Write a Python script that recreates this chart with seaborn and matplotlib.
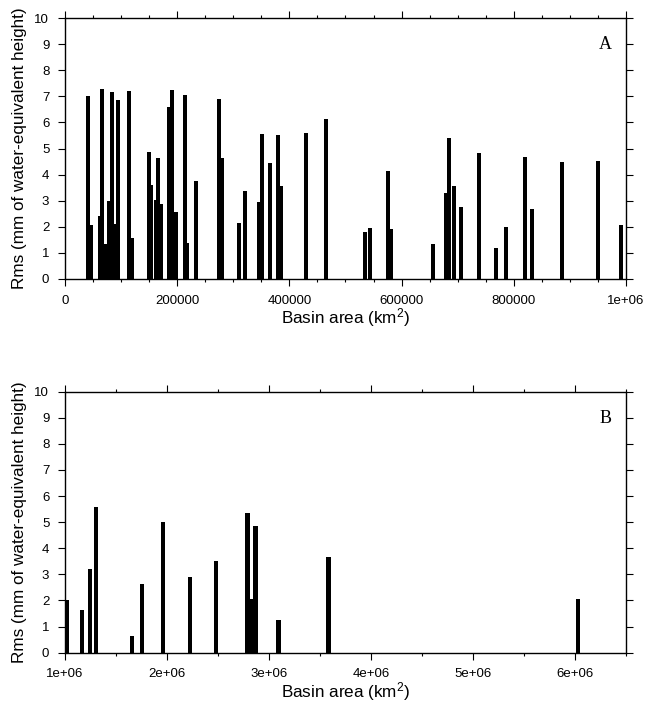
import numpy as np
import pandas as pd
import matplotlib
matplotlib.use("Agg")
import matplotlib.pyplot as plt
import seaborn as sns
from matplotlib.ticker import FixedLocator, MultipleLocator

# Basins smaller than 1e6 km^2: area (km^2) and rms (mm water-equivalent height)
area_small = [41000, 47200, 61500, 66000, 73100, 78400, 83800, 88200, 94500,
              114000, 119400, 149700, 154200, 161300, 165800, 171100, 185400,
              190700, 197900, 213900, 217500, 233500, 274500, 279900, 310200,
              320900, 345800, 351200, 364900, 379700, 385000, 429600, 465200,
              534800, 543700, 575800, 581100, 656000, 679100, 684500, 693400,
              705900, 738000, 768300, 786100, 819900, 832400, 885900, 950100,
              991100]
rms_small = [7.03, 2.08, 2.43, 7.28, 1.33, 3.0, 7.17, 2.1, 6.86,
             7.2, 1.58, 4.87, 3.6, 3.03, 4.64, 2.88, 6.6,
             7.24, 2.57, 7.05, 1.39, 3.76, 6.9, 4.64, 2.15,
             3.38, 2.96, 5.56, 4.45, 5.52, 3.57, 5.6, 6.13,
             1.81, 1.96, 4.14, 1.93, 1.35, 3.3, 5.4, 3.57,
             2.77, 4.83, 1.2, 2.0, 4.68, 2.69, 4.49, 4.53,
             2.08]

# Basins larger than 1e6 km^2
area_large = [1.02e6, 1.164e6, 1.242e6, 1.30e6, 1.653e6, 1.751e6, 1.957e6,
              2.221e6, 2.476e6, 2.789e6, 2.819e6, 2.868e6, 3.093e6, 3.583e6,
              6.03e6]
rms_large = [2.0, 1.62, 3.19, 5.6, 0.64, 2.63, 4.99,
             2.89, 3.5, 5.34, 2.04, 4.84, 1.24, 3.65,
             2.07]

ticks_small = [0, 200000, 400000, 600000, 800000, 1000000]
ticklabels_small = ["0", "200000", "400000", "600000", "800000", "1e+06"]
ticks_large = [1e6, 2e6, 3e6, 4e6, 5e6, 6e6]
ticklabels_large = ["1e+06", "2e+06", "3e+06", "4e+06", "5e+06", "6e+06"]

y_ticks = list(range(0, 11))
y_label = "Rms (mm of water-equivalent height)"
x_label = "Basin area (km$^2$)"

sns.set_style("ticks")
plt.rcParams["font.family"] = ["Liberation Sans", "DejaVu Sans"]
plt.rcParams["mathtext.fontset"] = "custom"
plt.rcParams["mathtext.rm"] = "Liberation Sans"
plt.rcParams["mathtext.it"] = "Liberation Sans"

fig = plt.figure(figsize=(6.52, 7.04), dpi=100)
fig.patch.set_facecolor("white")

panels = [
    dict(area=area_small, rms=rms_small, xlim=(0, 1e6), minor=50000,
         ticks=ticks_small, labels=ticklabels_small, bar_w=7000, tag="A",
         rect=[0.0997, 0.6037, 0.8604, 0.3707]),
    dict(area=area_large, rms=rms_large, xlim=(1e6, 6.5e6), minor=500000,
         ticks=ticks_large, labels=ticklabels_large, bar_w=40000, tag="B",
         rect=[0.0997, 0.0729, 0.8604, 0.3707]),
]

for p in panels:
    ax = fig.add_axes(p["rect"])
    df = pd.DataFrame({"area": p["area"], "rms": p["rms"]})
    spacing = np.min(np.diff(np.unique(df["area"])))
    sns.barplot(data=df, x="area", y="rms", native_scale=True,
                width=p["bar_w"] / spacing, color="black", linewidth=0,
                errorbar=None, saturation=1, ax=ax)
    ax.set_xlim(*p["xlim"])
    ax.set_ylim(0, 10)

    ax.xaxis.set_major_locator(FixedLocator(p["ticks"]))
    ax.set_xticklabels(p["labels"])
    ax.xaxis.set_minor_locator(MultipleLocator(p["minor"]))
    ax.yaxis.set_major_locator(FixedLocator(y_ticks))
    ax.set_yticklabels([str(v) for v in y_ticks])

    ax.tick_params(which="both", direction="out", top=True, right=True,
                   labeltop=False, labelright=False, color="black",
                   width=0.8, labelsize=9.5, labelcolor="black")
    ax.tick_params(which="major", length=5, pad=6.3)
    ax.tick_params(which="minor", length=2.5)
    for s in ax.spines.values():
        s.set_visible(True)
        s.set_color("black")
        s.set_linewidth(1.0)

    ax.set_xlabel(x_label, fontsize=12.3, color="black")
    ax.set_ylabel(y_label, fontsize=12.3, color="black")
    ax.xaxis.set_label_coords(0.5, -0.105)
    ax.yaxis.set_label_coords(-0.068, 0.5)

    ax.text(0.963, 0.897, p["tag"], transform=ax.transAxes, ha="center",
            va="center", fontsize=13, family="Liberation Serif", color="black")

fig.savefig("out.png", dpi=100, facecolor="white")
